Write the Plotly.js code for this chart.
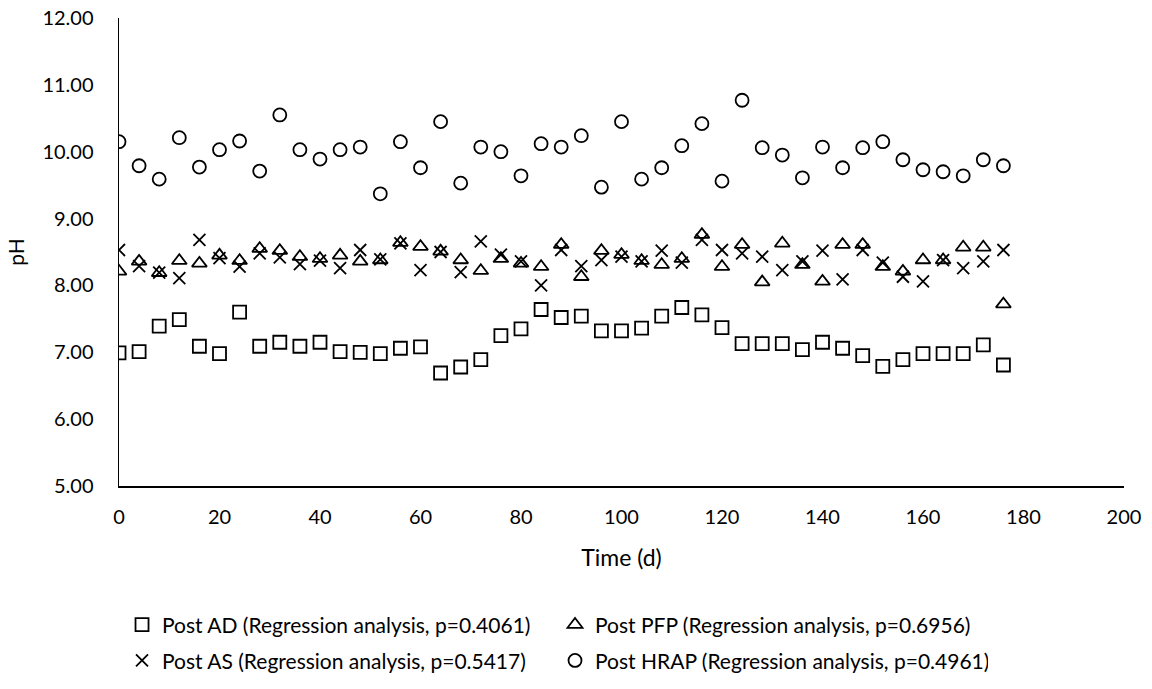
<!DOCTYPE html>
<html>
<head>
<meta charset="utf-8">
<script src="https://cdn.plot.ly/plotly-3.0.1.min.js"></script>
<style>html,body{margin:0;padding:0;background:#fff;}#chart{width:1152px;height:689px;}</style>
</head>
<body>
<div id="chart"></div>
<script>
const days = [0,4,8,12,16,20,24,28,32,36,40,44,48,52,56,60,64,68,72,76,80,84,88,92,96,100,104,108,112,116,120,124,128,132,136,140,144,148,152,156,160,164,168,172,176];

const postAD = [6.99,7.01,7.39,7.49,7.09,6.98,7.60,7.09,7.15,7.09,7.15,7.01,7.00,6.98,7.06,7.08,6.69,6.78,6.89,7.25,7.35,7.64,7.52,7.54,7.32,7.32,7.36,7.54,7.67,7.56,7.37,7.13,7.13,7.13,7.04,7.15,7.06,6.95,6.79,6.89,6.98,6.98,6.98,7.11,6.81];

const postPFP = [8.21,8.36,8.19,8.37,8.33,8.45,8.37,8.55,8.52,8.43,8.40,8.45,8.36,8.38,8.64,8.58,8.51,8.38,8.22,8.40,8.33,8.28,8.61,8.13,8.52,8.46,8.37,8.31,8.40,8.76,8.28,8.61,8.05,8.63,8.31,8.06,8.61,8.61,8.28,8.21,8.38,8.38,8.57,8.57,7.72];

const postAS = [8.53,8.29,8.19,8.11,8.68,8.41,8.28,8.48,8.42,8.32,8.37,8.26,8.53,8.39,8.63,8.23,8.50,8.20,8.66,8.46,8.36,8.00,8.53,8.29,8.38,8.43,8.36,8.52,8.34,8.68,8.53,8.48,8.43,8.23,8.36,8.52,8.09,8.53,8.34,8.13,8.06,8.38,8.26,8.36,8.53];

const postHRAP = [10.15,9.79,9.59,10.21,9.77,10.03,10.16,9.71,10.55,10.03,9.89,10.03,10.07,9.37,10.15,9.76,10.45,9.53,10.07,10.00,9.64,10.12,10.07,10.24,9.47,10.45,9.59,9.76,10.09,10.42,9.56,10.77,10.06,9.95,9.61,10.07,9.76,10.06,10.15,9.88,9.73,9.70,9.64,9.88,9.79];

const seriesNames = [
  "Post AD (Regression analysis, p=0.4061)",
  "Post PFP (Regression analysis, p=0.6956)",
  "Post AS (Regression analysis, p=0.5417)",
  "Post HRAP (Regression analysis, p=0.4961)"
];

const FONT = "Lato, 'Open Sans', sans-serif";
const INK = "#000";

function mk(y, name, symbol, size, legendId) {
  return {
    x: days, y: y, name: name, type: "scatter", mode: "markers",
    legend: legendId,
    marker: {symbol: symbol, size: size, color: INK,
             line: {color: INK, width: 1.8}}
  };
}

const traces = [
  mk(postAD, seriesNames[0], "square-open", 13, "legend"),
  mk(postPFP, seriesNames[1], "triangle-up-open", 13, "legend"),
  mk(postAS, seriesNames[2], "x-thin-open", 12, "legend2"),
  mk(postHRAP, seriesNames[3], "circle-open", 13, "legend2")
];

const legendCommon = {
  orientation: "h", xref: "paper", yref: "container", yanchor: "middle", xanchor: "left",
  x: 0.003, itemwidth: 30, entrywidth: 388, entrywidthmode: "pixels",
  font: {family: FONT, size: 21, color: INK}, bgcolor: "rgba(0,0,0,0)", borderwidth: 0,
  itemclick: false, itemdoubleclick: false
};

const layout = {
  width: 1152, height: 689,
  margin: {l: 119, r: 28, t: 18, b: 203, autoexpand: false},
  paper_bgcolor: "#fff", plot_bgcolor: "#fff",
  font: {family: FONT, size: 20, color: INK},
  showlegend: true,
  xaxis: {
    range: [0, 200], dtick: 20, tick0: 0, showgrid: false, zeroline: false,
    showline: true, linecolor: INK, linewidth: 1.5, ticks: "",
    ticklabelstandoff: 12,
    tickfont: {family: FONT, size: 20, color: INK},
    title: {text: "Time (d)", font: {family: FONT, size: 23, color: INK}, standoff: 23}
  },
  yaxis: {
    range: [5, 12], dtick: 1, tick0: 5, tickformat: ".2f", showgrid: false, zeroline: false,
    showline: true, linecolor: INK, linewidth: 1.5, ticks: "",
    ticklabelstandoff: 20,
    tickfont: {family: FONT, size: 20, color: INK},
    title: {text: "pH", font: {family: FONT, size: 21, color: INK}, standoff: 12}
  },
  legend: Object.assign({}, legendCommon, {y: 0.093}),
  legend2: Object.assign({}, legendCommon, {y: 0.041})
};

Plotly.newPlot("chart", traces, layout, {displayModeBar: false, staticPlot: true});
</script>
</body>
</html>
